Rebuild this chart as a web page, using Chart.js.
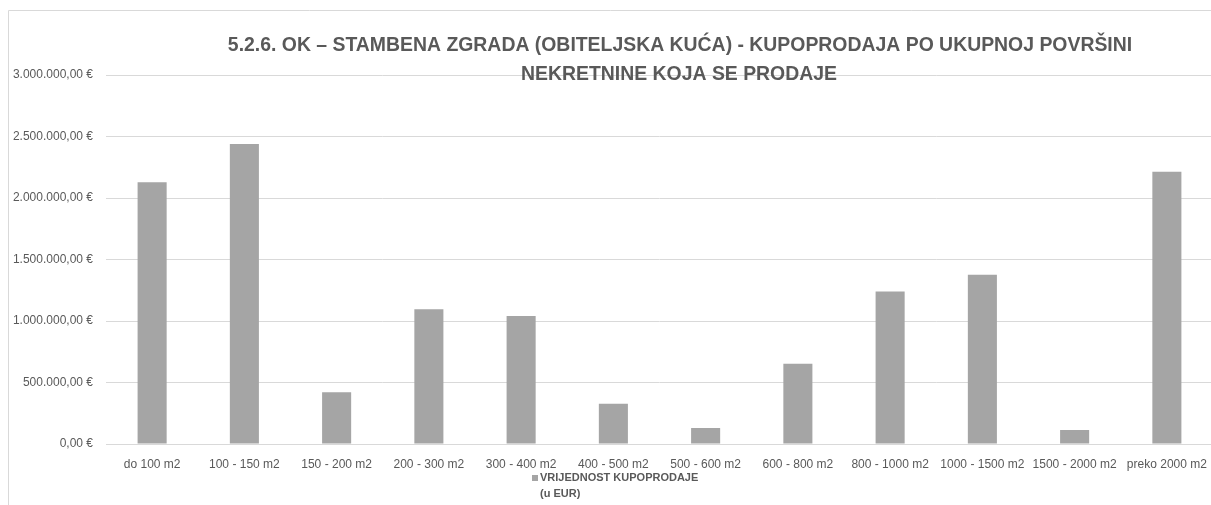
<!DOCTYPE html>
<html>
<head>
<meta charset="utf-8">
<script src="https://cdn.jsdelivr.net/npm/chart.js@4"></script>
<style>
    html, body { margin: 0; padding: 0; background: #fff; overflow: hidden; }
    #wrap { position: relative; width: 1213px; height: 505px; }
</style>
</head>
<body>
<div id="wrap"><canvas id="areaChart"></canvas></div>
<script>
// podaci s grafikona
const categories = ['do 100 m2', '100 - 150 m2', '150 - 200 m2', '200 - 300 m2', '300 - 400 m2', '400 - 500 m2',
    '500 - 600 m2', '600 - 800 m2', '800 - 1000 m2', '1000 - 1500 m2', '1500 - 2000 m2', 'preko 2000 m2'];
const values = [2128000, 2440000, 420000, 1095000, 1040000, 328000, 130000, 653000, 1240000, 1377000, 114000, 2214000];
const yTicks = [0, 500000, 1000000, 1500000, 2000000, 2500000, 3000000];
const titleLines = ['5.2.6. OK – STAMBENA ZGRADA (OBITELJSKA KUĆA) - KUPOPRODAJA PO UKUPNOJ POVRŠINI', 'NEKRETNINE KOJA SE PRODAJE'];
const legendLines = ['VRIJEDNOST KUPOPRODAJE', '(u EUR)'];

const textColor = '#595959';
const gridColor = '#d9d9d9';
const barColor = '#a5a5a5';

// format 3.000.000,00 €
function formatEur(v) {
    const parts = v.toFixed(2).split('.');
    const intPart = parts[0].replace(/\B(?=(\d{3})+(?!\d))/g, '.');
    return intPart + ',' + parts[1] + ' €';
}

// okvir, naslov i legenda crtaju se ručno
const decorPlugin = {
    id: 'decor',
    beforeDraw(chart) {
        const ctx = chart.ctx;
        ctx.save();
        ctx.strokeStyle = gridColor;
        ctx.lineWidth = 1;
        ctx.beginPath();
        ctx.moveTo(8.5, chart.height);
        ctx.lineTo(8.5, 10.5);
        ctx.lineTo(chart.width, 10.5);
        ctx.stroke();
        ctx.restore();
    },
    afterDraw(chart) {
        const ctx = chart.ctx;
        ctx.save();
        ctx.fillStyle = textColor;
        ctx.textAlign = 'center';
        ctx.textBaseline = 'middle';
        // naslov - širina prvog retka oko 905 px
        ctx.font = 'bold 18px "Liberation Sans"';
        const w = ctx.measureText(titleLines[0]).width;
        const size = 18 * 905 / w;
        ctx.font = 'bold ' + size.toFixed(2) + 'px "Liberation Sans"';
        ctx.fillText(titleLines[0], 680, 46);
        ctx.fillText(titleLines[1], 679, 75);

        // legenda
        ctx.fillStyle = barColor;
        ctx.fillRect(532, 475, 6, 6);
        ctx.fillStyle = textColor;
        ctx.textAlign = 'left';
        ctx.font = 'bold 11px "Liberation Sans"';
        ctx.fillText(legendLines[0], 540, 478);
        ctx.fillText(legendLines[1], 540, 494);
        ctx.restore();
    }
};

const ctx = document.getElementById('areaChart').getContext('2d');
new Chart(ctx, {
    type: 'bar',
    data: {
        labels: categories,
        datasets: [{
            label: legendLines.join(' '),
            data: values,
            backgroundColor: barColor,
            borderWidth: 0,
            categoryPercentage: 1,
            barPercentage: 0.315
        }]
    },
    options: {
        responsive: true,
        maintainAspectRatio: false,
        animation: false,
        layout: {
            padding: { top: 75, right: 0, bottom: 0, left: 0 }
        },
        scales: {
            x: {
                grid: { display: false },
                border: { color: gridColor, width: 1 },
                ticks: {
                    color: textColor,
                    font: { family: 'Liberation Sans', size: 12 },
                    padding: 5,
                    maxRotation: 0,
                    autoSkip: false
                },
                afterFit(scale) { scale.height = 61; }
            },
            y: {
                min: 0,
                max: 3000000,
                afterBuildTicks(scale) {
                    scale.ticks = yTicks.map(v => ({ value: v }));
                },
                grid: { color: gridColor, drawTicks: false },
                border: { display: false },
                ticks: {
                    color: textColor,
                    font: { family: 'Liberation Sans', size: 12 },
                    padding: 13,
                    callback: (v) => formatEur(v)
                },
                afterFit(scale) { scale.width = 106; }
            }
        },
        plugins: {
            legend: { display: false },
            title: { display: false },
            tooltip: { enabled: false }
        }
    },
    plugins: [decorPlugin]
});
</script>
</body>
</html>
